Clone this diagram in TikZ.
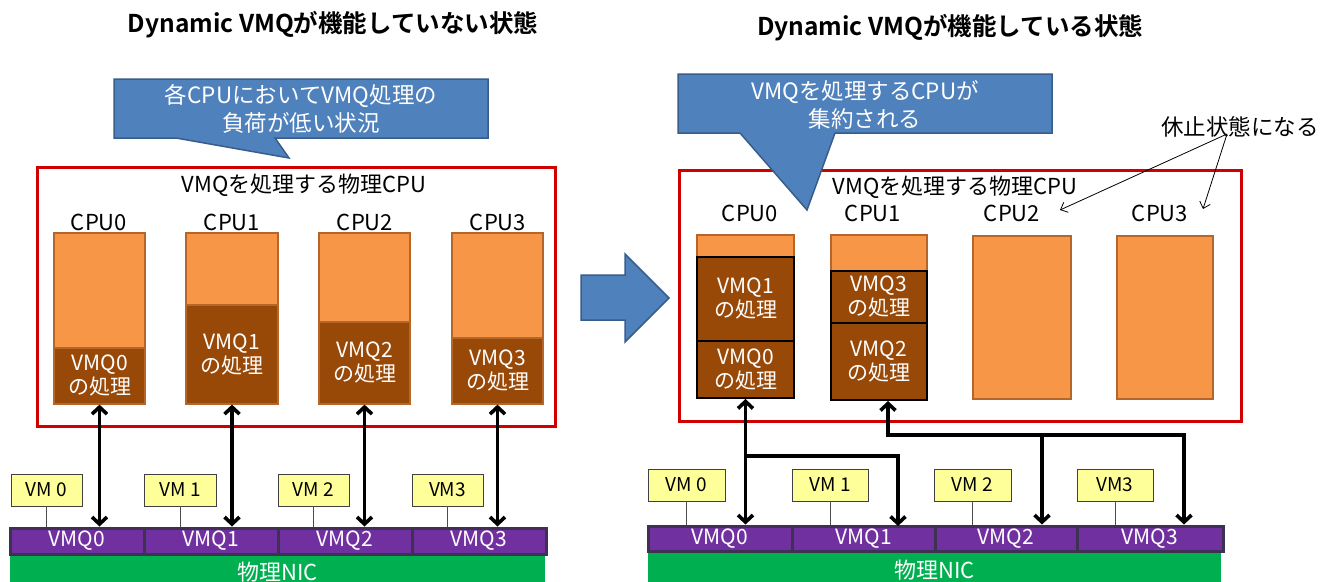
\documentclass[tikz,border=0pt]{standalone}
\usepackage{fontspec}
\setmainfont{Noto Sans CJK JP}[BoldFont={Noto Sans CJK JP Bold}]
\usetikzlibrary{arrows.meta,calc}
\definecolor{cblue}{HTML}{4F81BD}
\definecolor{cblueB}{HTML}{385D8A}
\definecolor{cred}{HTML}{D00000}
\definecolor{orL}{HTML}{F79646}
\definecolor{orB}{HTML}{B5662A}
\definecolor{brD}{HTML}{984807}
\definecolor{vmY}{HTML}{FFFF99}
\definecolor{pur}{HTML}{7030A0}
\definecolor{purB}{HTML}{3F3151}
\definecolor{grn}{HTML}{00B050}
\newcommand\bx[7]{\node[#1,minimum width={(#5-#3)*1pt},minimum height={(#6-#4)*1pt}] (#2) at ({(#3+#5)/2},{(#4+#6)/2}) {#7};}
\tikzset{
  ttl/.style={font=\bfseries\fontsize{24.5}{28}\selectfont,inner sep=0},
  lbl/.style={font=\fontsize{22}{24}\selectfont,inner sep=0},
  cshape/.style={fill=cblue,draw=cblueB,line width=1.5pt,line join=miter},
  cotext/.style={text=white,align=center,inner sep=0,font=\fontsize{22.5}{28}\selectfont},
  redbox/.style={draw=cred,line width=3pt,inner sep=0},
  cpubar/.style={draw=orB,fill=orL,line width=1.5pt,inner sep=0},
  dk/.style={fill=brD,draw=orB,line width=1.2pt,text=white,align=center,inner sep=0,font=\fontsize{21}{24}\selectfont},
  dkb/.style={dk,draw=black,line width=2pt},
  vm/.style={fill=vmY,draw=black!75,line width=0.8pt,inner sep=0,font=\fontsize{19}{21}\selectfont},
  vmq/.style={fill=pur,draw=purB,line width=3pt,text=white,inner sep=0,font=\fontsize{21}{24}\selectfont},
  nic/.style={fill=grn,text=white,inner sep=0,font=\fontsize{22}{24}\selectfont},
  vmline/.style={draw=black!70,line width=0.8pt},
  dbl/.style={line width=3.6pt,{Straight Barb[length=7pt,width=15pt]}-{Straight Barb[length=7pt,width=15pt]}},
  sgl/.style={line width=3.6pt,-{Straight Barb[length=7pt,width=15pt]}},
  thinarr/.style={line width=0.8pt,-{Straight Barb[length=6pt,width=11pt]}}
}
\begin{document}
\begin{tikzpicture}[x=1pt,y=-1pt]
\useasboundingbox (0,0) rectangle (1333,581);
\fill[white] (0,0) rectangle (1333,581);

% ================= LEFT =================
\node[ttl] (tL) at (333,25) {Dynamic VMQが機能していない状態};
\draw[cshape] (114,79) -- (488,79) -- (488,138) -- (275,138) -- (289,158) -- (176,138) -- (114,138) -- cycle;
\node[cotext] (cL) at (301,109) {各CPUにおいてVMQ処理の\\負荷が低い状況};

\bx{redbox}{rL}{37}{167}{555}{426}{}
\node[lbl] (hL) at (304,185) {VMQを処理する物理CPU};
\node[lbl] (clL0) at (99,222) {CPU0};
\node[lbl] (clL1) at (232,222) {CPU1};
\node[lbl] (clL2) at (365,222) {CPU2};
\node[lbl] (clL3) at (498,222) {CPU3};

\bx{cpubar}{L0}{54}{233}{145}{404}{}
\bx{dk}{L0d}{54}{348}{145}{404}{VMQ0\\の処理}
\bx{cpubar}{L1}{186}{233}{278}{404}{}
\bx{dk}{L1d}{186}{305}{278}{404}{VMQ1\\の処理}
\bx{cpubar}{L2}{319}{233}{410}{404}{}
\bx{dk}{L2d}{319}{322}{410}{404}{VMQ2\\の処理}
\bx{cpubar}{L3}{452}{233}{543}{404}{}
\bx{dk}{L3d}{452}{338}{543}{404}{VMQ3\\の処理}

\bx{nic}{nL}{10}{554}{545}{590}{物理NIC}
\bx{vmq}{qL0}{10}{528}{144}{554}{VMQ0}
\bx{vmq}{qL1}{144}{528}{278}{554}{VMQ1}
\bx{vmq}{qL2}{278}{528}{412}{554}{VMQ2}
\bx{vmq}{qL3}{412}{528}{546}{554}{VMQ3}

\bx{vm}{vL0}{11}{474}{82}{506}{VM 0}
\bx{vm}{vL1}{144}{474}{216}{506}{VM 1}
\bx{vm}{vL2}{278}{474}{349}{506}{VM 2}
\bx{vm}{vL3}{412}{474}{483}{506}{VM3}
\foreach \i in {0,1,2,3}{
  \draw[vmline] (vL\i.south) -- (vL\i.south |- qL\i.north);
  \draw[dbl] (L\i d.south) -- (L\i d.south |- qL\i.north);
}

% ================= BIG ARROW =================
\draw[cshape] (581,275) -- (625,275) -- (625,254) -- (669,298) -- (625,342) -- (625,320) -- (581,320) -- cycle;

% ================= RIGHT =================
\node[ttl] (tR) at (950,28) {Dynamic VMQが機能している状態};
\bx{redbox}{rR}{679}{170}{1241}{421}{}
\node[lbl] (hR) at (955,187) {VMQを処理する物理CPU};
\node[lbl] (clR0) at (750,213) {CPU0};
\node[lbl] (clR1) at (873,213) {CPU1};
\node[lbl] (clR2) at (1012,213) {CPU2};
\node[lbl] (clR3) at (1160,213) {CPU3};

\bx{cpubar}{R0}{697}{235}{794}{398}{}
\bx{dkb}{R0a}{697}{257}{794}{341}{VMQ1\\の処理}
\bx{dkb}{R0b}{697}{341}{794}{398}{VMQ0\\の処理}
\bx{cpubar}{R1}{831}{235}{927}{400}{}
\bx{dkb}{R1a}{831}{271}{927}{323}{VMQ3\\の処理}
\bx{dkb}{R1b}{831}{323}{927}{400}{VMQ2\\の処理}
\bx{cpubar}{R2}{973}{236}{1071}{399}{}
\bx{cpubar}{R3}{1117}{236}{1213}{399}{}

\draw[cshape] (678,74) -- (1052,74) -- (1052,133) -- (835,133) -- (807,210) -- (740,133) -- (678,133) -- cycle;
\node[cotext] (cR) at (865,105) {VMQを処理するCPUが\\集約される};

\node[lbl,font=\fontsize{22.5}{24}\selectfont] (kyu) at (1240,127) {休止状態になる};
\coordinate (k0) at (1227,134);
\coordinate (k2) at (1060,210);
\coordinate (k3) at (1203,209);
\draw[thinarr] (k0) -- (k2);
\draw[thinarr] (k0) -- (k3);

\bx{nic}{nR}{648}{551}{1221}{590}{物理NIC}
\bx{vmq}{qR0}{648}{526}{792}{551}{VMQ0}
\bx{vmq}{qR1}{792}{526}{935}{551}{VMQ1}
\bx{vmq}{qR2}{935}{526}{1077}{551}{VMQ2}
\bx{vmq}{qR3}{1077}{526}{1223}{551}{VMQ3}

\bx{vm}{vR0}{648}{469}{725}{501}{VM 0}
\bx{vm}{vR1}{792}{469}{868}{501}{VM 1}
\bx{vm}{vR2}{934}{469}{1011}{501}{VM 2}
\bx{vm}{vR3}{1077}{469}{1153}{501}{VM3}
\foreach \i in {0,1,2,3}{
  \draw[vmline] (vR\i.south) -- (vR\i.south |- qR\i.north);
}

\coordinate (j0) at (746,456);
\coordinate (t1) at (898,526);
\coordinate (c1) at (888,435);
\coordinate (c2) at (1042,435);
\coordinate (c3) at (1184,435);
\draw[dbl] (R0b.south) -- (R0b.south |- qR0.north);
\draw[sgl] (j0) -| (t1);
\draw[dbl] (R1b.south -| c1) -- (c1) -- (c3) -- (c3 |- qR3.north);
\draw[sgl] (c2) -- (c2 |- qR2.north);
\end{tikzpicture}
\end{document}
